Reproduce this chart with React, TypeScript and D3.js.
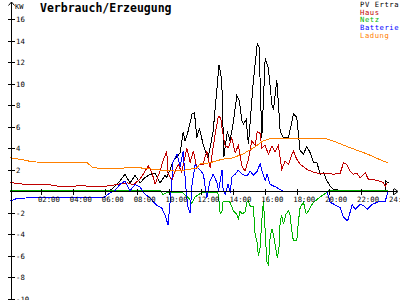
import React from "react";
import * as d3 from "d3";

// ---- data (hours, kW) ----
const pvT = [0, 6.2, 6.5, 6.9, 7.2, 7.52, 7.84, 8.15, 8.46, 8.78, 9.09, 9.4, 9.72, 9.82, 10.03, 10.22, 10.66, 10.85, 10.97, 11.16, 11.41, 11.56, 11.71, 11.87, 12.1, 12.41, 12.73, 13.1, 13.27, 13.4, 13.62, 13.79, 14.0, 14.21, 14.38, 14.53, 14.63, 14.8, 14.94, 15.25, 15.5, 15.61, 15.78, 15.99, 16.19, 16.41, 16.51, 16.72, 16.93, 17.14, 17.45, 17.76, 17.97, 18.18, 18.39, 18.6, 18.81, 19.02, 19.23, 19.44, 19.64, 19.86, 20.06, 20.27, 20.69, 23.5, 23.55, 23.7];
const pvV = [0, 0, 0.4, 1.0, 1.6, 0.8, 1.5, 0.8, 1.3, 1.6, 1.7, 0.8, 1.5, 1.3, 2.0, 2.8, 3.6, 5.5, 4.7, 5.6, 7.2, 7.3, 5.0, 5.9, 4.4, 3.1, 5.6, 11.8, 10.3, 3.2, 5.6, 4.7, 6.5, 8.9, 8.4, 6.6, 6.25, 6.7, 4.4, 10.3, 13.8, 13.4, 5.0, 12.4, 11.5, 8.1, 7.6, 10.4, 5.6, 5.0, 5.0, 7.2, 6.9, 3.8, 3.5, 4.2, 3.6, 2.7, 2.7, 1.6, 1.75, 1.0, 0.5, 0.2, 0.1, 0.1, 1.0, 0.8];

const hausT = [0, 0.6, 1.0, 2.5, 3.0, 4.0, 4.5, 5.0, 5.5, 6.0, 6.5, 7.0, 7.4, 7.71, 8.15, 8.59, 8.65, 8.9, 9.09, 9.4, 9.59, 9.82, 9.9, 10.14, 10.34, 10.55, 10.76, 11.08, 11.29, 11.49, 11.71, 11.87, 12.1, 12.33, 12.54, 12.85, 13.06, 13.21, 13.27, 13.48, 13.69, 13.9, 14.11, 14.31, 14.53, 14.73, 14.94, 15.15, 15.36, 15.5, 15.67, 15.78, 15.99, 16.19, 16.41, 16.61, 16.82, 17.03, 17.24, 17.45, 17.66, 17.76, 17.97, 18.18, 18.6, 19.02, 19.44, 19.86, 20.27, 20.69, 20.9, 21.11, 21.32, 21.52, 21.74, 21.94, 22.26, 22.46, 22.78, 23.09, 23.4, 23.51, 23.62];
const hausV = [0.82, 0.75, 0.62, 0.62, 0.5, 0.5, 0.55, 0.48, 0.5, 0.5, 0.6, 0.75, 0.8, 0.6, 1.15, 2.2, 2.4, 1.75, 0.67, 1.9, 2.84, 3.77, 1.75, 0.98, 1.9, 2.5, 1.75, 4.07, 2.7, 3.77, 2.2, 2.5, 2.53, 3.77, 2.2, 5.3, 7.0, 6.86, 6.0, 4.23, 4.1, 5.0, 3.6, 4.3, 2.37, 1.9, 3.0, 4.7, 4.3, 5.6, 5.4, 4.07, 4.3, 3.46, 4.23, 3.7, 4.3, 2.06, 2.84, 2.5, 3.46, 3.77, 3.0, 2.53, 2.06, 1.8, 1.65, 1.7, 1.6, 1.7, 2.68, 2.5, 1.9, 1.6, 1.7, 1.28, 1.75, 1.13, 1.1, 0.98, 0.85, 0.5, 0.75];

const netzT = [0, 9.4, 9.59, 9.72, 9.9, 10.8, 11.2, 11.4, 11.6, 11.91, 12.1, 13.0, 13.06, 13.17, 13.3, 13.35, 13.62, 13.79, 14.0, 14.21, 14.31, 14.42, 14.53, 14.73, 14.84, 14.94, 15.05, 15.25, 15.36, 15.47, 15.57, 15.67, 15.78, 15.88, 15.99, 16.09, 16.19, 16.3, 16.41, 16.51, 16.61, 16.76, 16.88, 16.93, 17.03, 17.14, 17.3, 17.45, 17.55, 17.66, 17.76, 17.97, 18.08, 18.18, 18.39, 18.56, 18.7, 18.92, 19.12, 19.44, 19.75, 20.0, 23.7];
const netzV = [0.1, 0.1, -0.3, -0.15, -0.1, -0.1, -0.6, -1.1, -0.5, -0.2, -0.1, -0.1, -0.3, -2.1, -1.8, -0.9, -0.9, -1.0, -1.8, -2.1, -2.6, -1.8, -2.1, -1.9, -1.0, -0.9, -1.35, -1.35, -4.0, -4.6, -6.0, -5.2, -2.7, -0.9, -3.7, -6.5, -6.8, -4.3, -3.5, -4.0, -4.9, -6.2, -4.9, -2.7, -2.3, -3.05, -2.1, -1.8, -2.2, -3.7, -4.6, -4.6, -2.7, -1.5, -1.0, -2.1, -1.8, -1.2, -0.9, -0.5, -0.2, 0.1, 0.1];

const battT = [0, 0.4, 1.2, 5.9, 6.3, 6.58, 6.9, 7.21, 7.52, 7.84, 8.15, 8.46, 8.78, 9.0, 9.2, 9.5, 9.72, 9.9, 10.03, 10.14, 10.22, 10.47, 10.66, 10.85, 11.05, 11.16, 11.29, 11.41, 11.6, 11.91, 12.12, 12.33, 12.54, 12.73, 12.98, 13.06, 13.29, 13.35, 13.48, 13.67, 13.79, 13.92, 14.11, 14.3, 14.55, 14.86, 15.05, 15.25, 15.5, 15.67, 15.8, 15.99, 16.11, 16.3, 16.74, 17.12, 19.87, 20.06, 20.69, 20.9, 21.13, 21.19, 21.44, 21.63, 21.94, 22.13, 22.38, 22.7, 23.01, 23.32, 23.51, 23.7];
const battV = [-0.88, -0.67, -0.58, -0.55, -0.1, 0.1, 0.67, 0.98, 0.05, 0.67, 0.4, -0.25, -0.6, -1.0, -1.3, -1.5, -2.2, -3.1, -1.0, 1.0, 2.8, 3.5, 2.3, 3.77, -0.2, -1.5, -2.0, 0.67, 2.5, 2.0, 1.6, -0.6, 1.0, 1.6, 0.8, 0.05, 2.0, 0.3, -0.3, 0.7, -0.1, 1.4, 1.6, 2.0, 1.6, 1.45, 1.9, 1.5, 1.9, 2.6, 1.9, 1.0, 1.6, 0.67, 0.35, 0.0, 0.0, -1.0, -1.5, -2.4, -2.7, -2.6, -1.2, -1.65, -1.2, -1.3, -1.65, -1.2, -1.0, -0.9, -0.9, 0.0];

const ladT = [0, 0.63, 1.44, 3.13, 4.83, 5.2, 5.96, 6.9, 7.52, 8.15, 9.4, 10.34, 10.97, 11.72, 11.91, 12.54, 13.29, 13.9, 14.6, 15.3, 15.86, 16.4, 19.75, 20.25, 21.32, 22.38, 23.2, 23.7];
const ladV = [3.14, 3.0, 2.75, 2.7, 2.68, 2.2, 2.15, 2.15, 2.25, 2.2, 2.0, 1.9, 2.0, 2.2, 2.56, 2.68, 3.0, 3.1, 3.49, 4.1, 4.7, 4.95, 4.95, 4.7, 4.07, 3.49, 2.95, 2.65];

const yTicks = [-10, -8, -6, -4, -2, 2, 4, 6, 8, 10, 12, 14, 16];
const hourTicks = [2, 4, 6, 8, 10, 12, 14, 16, 18, 20, 22, 24];

const series = [
  { name: "PV Ertra", color: "#000000", t: pvT, v: pvV },
  { name: "Haus", color: "#c00000", t: hausT, v: hausV },
  { name: "Netz", color: "#00b400", t: netzT, v: netzV },
  { name: "Batterie", color: "#0000ff", t: battT, v: battV },
  { name: "Ladung", color: "#ff8000", t: ladT, v: ladV },
];

const MONO = "'DejaVu Sans Mono', monospace";

export default function App() {
  const x = d3.scaleLinear().domain([0, 24]).range([10, 393]);
  const y = d3.scaleLinear().domain([0, 16]).range([191.5, 19.5]);
  const line = d3
    .line<[number, number]>()
    .x((d) => x(d[0]))
    .y((d) => y(d[1]));
  const axisX = 11.5;
  const axisY = y(0);
  const pad = (h: number) => (h < 10 ? "0" + h : "" + h) + ":00";
  const px = (v: number) => Math.floor(v) + 0.5;

  return (
    <div style={{ position: "fixed", left: 0, top: 0 }}>
      <svg width={400} height={300} style={{ display: "block", background: "#fff" }}>
        <rect width={400} height={300} fill="#fff" />
        {/* series */}
        {series.map((s) => (
          <path
            key={s.name}
            d={line(s.t.map((t, i) => [t, s.v[i]] as [number, number])) || ""}
            fill="none"
            stroke={s.color}
            strokeWidth={1}
            shapeRendering="crispEdges"
          />
        ))}
        {/* axes */}
        <g stroke="#000" strokeWidth={1} shapeRendering="crispEdges">
          <line x1={axisX} x2={axisX} y1={2} y2={300} />
          <line x1={axisX} x2={397} y1={axisY} y2={axisY} />
        </g>
        <path d={`M${axisX - 3},5.5 L${axisX},2 L${axisX + 3},5.5`} fill="none" stroke="#000" strokeWidth={1} />
        <path d={`M394,${axisY - 3} L398,${axisY} L394,${axisY + 3}`} fill="none" stroke="#000" strokeWidth={1} />
        <text x={15} y={8.5} fontFamily={MONO} fontSize={7} fill="#000">KW</text>
        {yTicks.map((v) => (
          <g key={v}>
            <line x1={8} x2={15} y1={px(y(v))} y2={px(y(v))} stroke="#000" shapeRendering="crispEdges" />
            <text x={16} y={y(v) + 2.6} fontFamily={MONO} fontSize={7.3} fill="#000">{v}</text>
          </g>
        ))}
        {hourTicks.map((h) => (
          <g key={h}>
            <line x1={px(x(h))} x2={px(x(h))} y1={axisY - 3} y2={axisY + 3} stroke="#000" shapeRendering="crispEdges" />
            <text x={x(h) - 4} y={201.5} fontFamily={MONO} fontSize={7.3} fill="#000">{pad(h)}</text>
          </g>
        ))}
        {/* title */}
        <text x={40} y={11.5} fontFamily={MONO} fontWeight="bold" fontSize={11.5} fill="#000">Verbrauch/Erzeugung</text>
        {/* legend */}
        {series.map((s, i) => (
          <text key={s.name} x={360} y={7 + i * 7.7} fontFamily={MONO} fontSize={7.2} letterSpacing={0.55} fill={s.color}>{s.name}</text>
        ))}
      </svg>
    </div>
  );
}
